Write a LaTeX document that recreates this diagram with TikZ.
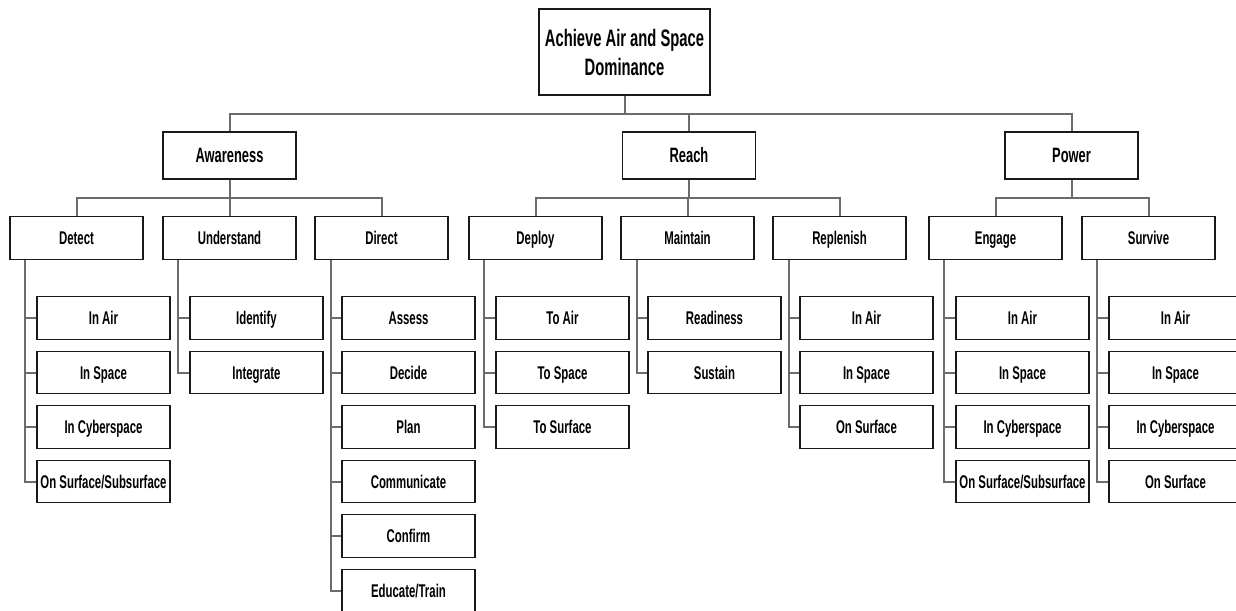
\documentclass[tikz,border=0pt]{standalone}
\usepackage{fontspec}
\setmainfont{Liberation Sans}[FakeStretch=0.62]
\begin{document}
\begin{tikzpicture}[x=1pt,y=-1pt,
  box/.style={draw=black!90,line width=1.3pt,rectangle,inner sep=0pt,fill=white,
    minimum width=133pt,minimum height=42.5pt,font=\bfseries\fontsize{18.4}{21}\selectfont,
    text height=13.2pt,text depth=0pt},
  lone/.style={box,minimum height=47pt,font=\bfseries\fontsize{20.8}{24}\selectfont,text height=14.9pt},
  rootbox/.style={draw=black!90,line width=1.3pt,rectangle,inner sep=0pt,fill=white,
    minimum width=171pt,minimum height=86pt,align=center,font=\bfseries\fontsize{23.8}{29}\selectfont},
  conn/.style={draw=black!58,line width=2pt}]
\clip (0,0) rectangle (1236,610);
\fill[white] (0,0) rectangle (1236,610);
% nodes
\node[rootbox] (root) at (624.5,52) {Achieve Air and Space\\Dominance};
\node[lone] (aw) at (229.5,155.5) {Awareness};
\node[lone] (re) at (689,155.5) {Reach};
\node[lone] (po) at (1071.5,155.5) {Power};
\node[box] (det) at (76.5,238) {Detect};
\node[box] (und) at (229.5,238) {Understand};
\node[box] (dir) at (381.5,238) {Direct};
\node[box] (dep) at (535.5,238) {Deploy};
\node[box] (mai) at (687.5,238) {Maintain};
\node[box] (rep) at (839.5,238) {Replenish};
\node[box] (eng) at (995.5,238) {Engage};
\node[box] (sur) at (1148.5,238) {Survive};
% level 3
\node[box] (det1) at (103.5,318) {In Air};
\node[box] (det2) at (103.5,372.5) {In Space};
\node[box] (det3) at (103.5,427) {In Cyberspace};
\node[box] (det4) at (103.5,481.5) {On Surface/Subsurface};
\node[box] (und1) at (256.5,318) {Identify};
\node[box] (und2) at (256.5,372.5) {Integrate};
\node[box] (dir1) at (408.5,318) {Assess};
\node[box] (dir2) at (408.5,372.5) {Decide};
\node[box] (dir3) at (408.5,427) {Plan};
\node[box] (dir4) at (408.5,481.5) {Communicate};
\node[box] (dir5) at (408.5,536) {Confirm};
\node[box] (dir6) at (408.5,590.5) {Educate/Train};
\node[box] (dep1) at (562.5,318) {To Air};
\node[box] (dep2) at (562.5,372.5) {To Space};
\node[box] (dep3) at (562.5,427) {To Surface};
\node[box] (mai1) at (714.5,318) {Readiness};
\node[box] (mai2) at (714.5,372.5) {Sustain};
\node[box] (rep1) at (866.5,318) {In Air};
\node[box] (rep2) at (866.5,372.5) {In Space};
\node[box] (rep3) at (866.5,427) {On Surface};
\node[box] (eng1) at (1022.5,318) {In Air};
\node[box] (eng2) at (1022.5,372.5) {In Space};
\node[box] (eng3) at (1022.5,427) {In Cyberspace};
\node[box] (eng4) at (1022.5,481.5) {On Surface/Subsurface};
\node[box] (sur1) at (1175.5,318) {In Air};
\node[box] (sur2) at (1175.5,372.5) {In Space};
\node[box] (sur3) at (1175.5,427) {In Cyberspace};
\node[box] (sur4) at (1175.5,481.5) {On Surface};
% connectors
\foreach \c in {aw,re,po} \draw[conn] (root.south) -- ++(0,18) -| (\c.north);
\foreach \c in {det,und,dir} \draw[conn] (aw.south) -- ++(0,18) -| (\c.north);
\foreach \c in {dep,mai,rep} \draw[conn] (re.south) -- ++(0,18) -| (\c.north);
\foreach \c in {eng,sur} \draw[conn] (po.south) -- ++(0,18) -| (\c.north);
\foreach \c in {det1,det2,det3,det4} \draw[conn] ([xshift=16pt]det.south west) |- (\c.west);
\foreach \c in {und1,und2} \draw[conn] ([xshift=16pt]und.south west) |- (\c.west);
\foreach \c in {dir1,dir2,dir3,dir4,dir5,dir6} \draw[conn] ([xshift=17pt]dir.south west) |- (\c.west);
\foreach \c in {dep1,dep2,dep3} \draw[conn] ([xshift=16pt]dep.south west) |- (\c.west);
\foreach \c in {mai1,mai2} \draw[conn] ([xshift=17pt]mai.south west) |- (\c.west);
\foreach \c in {rep1,rep2,rep3} \draw[conn] ([xshift=17pt]rep.south west) |- (\c.west);
\foreach \c in {eng1,eng2,eng3,eng4} \draw[conn] ([xshift=16pt]eng.south west) |- (\c.west);
\foreach \c in {sur1,sur2,sur3,sur4} \draw[conn] ([xshift=16pt]sur.south west) |- (\c.west);
\end{tikzpicture}
\end{document}
